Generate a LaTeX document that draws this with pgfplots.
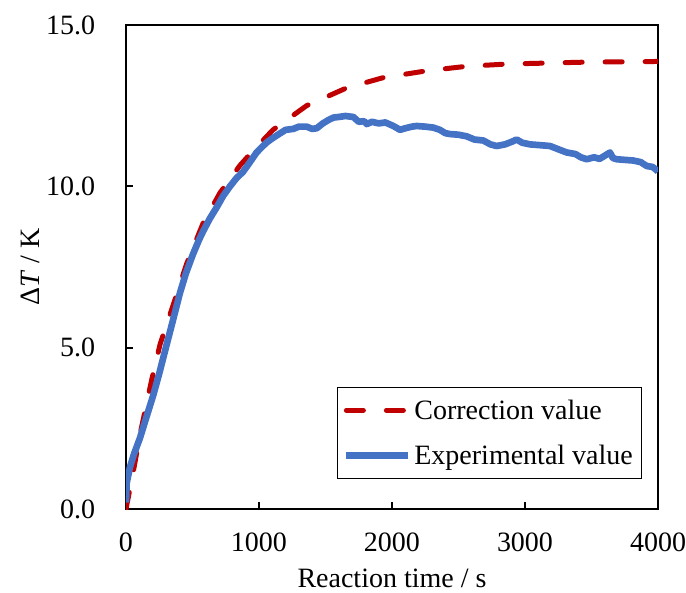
\documentclass[border=0pt]{standalone}
\usepackage{fontspec}
\setmainfont{Liberation Serif}
\usepackage{pgfplots}
\pgfplotsset{compat=1.18}
\definecolor{cred}{RGB}{192,0,0}
\definecolor{cblue}{RGB}{68,114,196}
\begin{document}
\begin{tikzpicture}
\begin{axis}[
  scale only axis,
  width=399pt, height=363pt,
  xmin=0, xmax=4000, ymin=0, ymax=15,
  xtick={0,1000,2000,3000,4000},
  ytick={0,5,10,15},
  scaled x ticks=false,
  tick align=inside,
  xtick pos=bottom, ytick pos=left,
  major tick length=5.5pt,
  every tick/.style={black, line width=1.5pt},
  axis line style={black, line width=1.5pt},
  /pgf/number format/assume math mode=true,
  x tick label style={/pgf/number format/1000 sep={}, anchor=north, inner sep=0pt, yshift=-18pt},
  y tick label style={/pgf/number format/.cd, fixed, fixed zerofill, precision=1, /tikz/.cd, anchor=east, inner sep=0pt, xshift=-23pt},
  tick label style={font=\fontsize{21}{25}\selectfont},
  xlabel={Reaction time / s},
  ylabel={Δ\textit{T} / K},
  every axis x label/.style={at={(axis description cs:0.5,-0.1426)}, anchor=center, font=\fontsize{21}{25}\selectfont},
  every axis y label/.style={at={(axis description cs:-0.1805,0.5)}, rotate=90, anchor=center, font=\fontsize{21}{25}\selectfont},
  legend style={at={(rel axis cs:1,0)}, anchor=south east, xshift=-12pt, yshift=22.5pt,
    draw=black, line width=0.75pt, font=\fontsize{21}{25}\selectfont,
    inner xsep=4pt, inner ysep=6pt, row sep=12pt,
    nodes={inner xsep=2.5pt, inner ysep=3pt}},
  legend cell align=left,
  legend image code/.code={\draw[#1] (0pt,0pt) -- (46pt,0pt);},
]
\addplot[cred, line width=3.75pt, line cap=round, dash pattern=on 12.75pt off 17.25pt] coordinates {
(0,0) (50,1.05) (105,2.3) (193,4.0) (256,5.1) (353,6.3) (456,7.6) (579,8.85)
(707,9.8) (857,10.65) (955,11.1) (1105,11.75) (1358,12.5) (1659,13.05)
(1935,13.37) (2261,13.58) (2561,13.72) (2862,13.79) (3163,13.82) (3464,13.85)
(3774,13.86) (4000,13.87)
};
\addlegendentry{Correction value}
\addplot[cblue, line width=5pt, line join=round] coordinates {
(0,0.2) (5,0.8) (30,1.3) (60,1.7) (105,2.2) (150,2.8) (203,3.5) (250,4.2)
(306,5.1) (350,5.8) (406,6.7) (450,7.3) (504,7.9) (550,8.35) (579,8.6)
(630,9.0) (682,9.35) (730,9.7) (782,10.0) (830,10.25) (880,10.45) (932,10.75)
(982,11.05) (1030,11.25) (1058,11.36) (1105,11.5) (1150,11.62) (1200,11.75)
(1258,11.78) (1300,11.85) (1358,11.85) (1400,11.78) (1434,11.8) (1480,11.95)
(1520,12.05) (1559,12.13) (1600,12.15) (1650,12.18) (1709,12.15) (1750,12.0)
(1790,12.02) (1810,11.93) (1850,12.0) (1900,11.95) (1950,11.98) (2010,11.87)
(2040,11.8) (2060,11.75) (2100,11.8) (2150,11.85) (2186,11.87) (2250,11.85)
(2311,11.82) (2360,11.75) (2400,11.65) (2436,11.62) (2500,11.6) (2561,11.55)
(2620,11.45) (2687,11.42) (2740,11.3) (2787,11.25) (2850,11.3) (2900,11.38)
(2937,11.45) (2980,11.35) (3038,11.3) (3100,11.28) (3188,11.25) (3250,11.15)
(3313,11.05) (3380,11.0) (3420,10.9) (3464,10.84) (3520,10.9) (3560,10.85)
(3600,10.95) (3639,11.05) (3660,10.88) (3689,10.84) (3750,10.82) (3814,10.8)
(3870,10.75) (3915,10.63) (3960,10.6) (3990,10.5) (4000,10.45)
};
\addlegendentry{Experimental value}
\end{axis}
\pgfresetboundingbox
\path[use as bounding box] (-94.5pt,-63pt) rectangle (420pt,381.75pt);
\end{tikzpicture}
\end{document}
